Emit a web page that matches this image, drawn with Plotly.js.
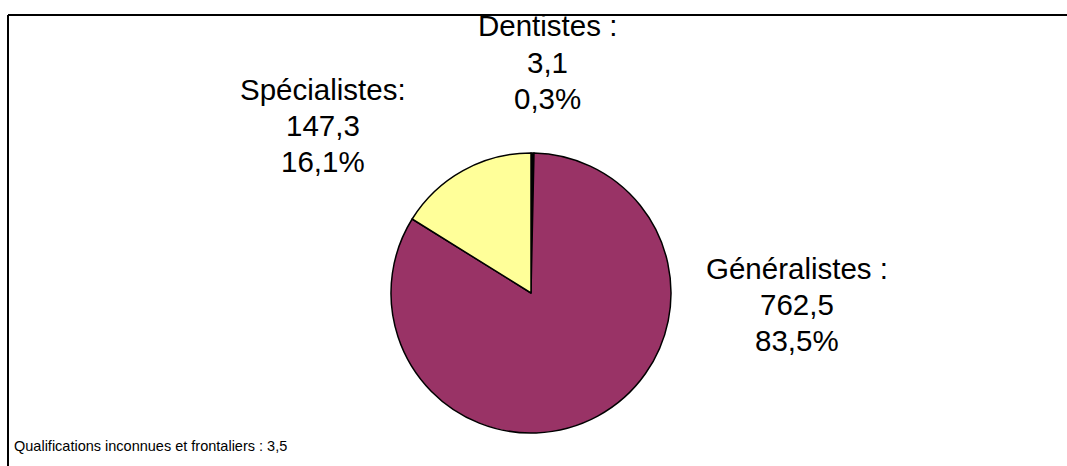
<!DOCTYPE html>
<html>
<head>
<meta charset="utf-8">
<script src="https://cdn.plot.ly/plotly-3.0.1.min.js"></script>
<style>html,body{margin:0;padding:0;background:#fff;}#chart{width:1067px;height:466px;}</style>
</head>
<body>
<div id="chart"></div>
<script>
var categories = ["Dentistes", "Généralistes", "Spécialistes"];
var values = [3.1, 762.5, 147.3];
var valueLabels = ["3,1", "762,5", "147,3"];
var percentLabels = ["0,3%", "83,5%", "16,1%"];
var nameLabels = ["Dentistes :", "Généralistes :", "Spécialistes:"];
var colors = ["#000000", "#993366", "#FFFF99"];
var footnote = "Qualifications inconnues et frontaliers : 3,5";

var W = 1067, H = 466;
var cx = 531, cy = 293, r = 140;

var trace = {
  type: "pie",
  labels: categories,
  values: values,
  sort: false,
  direction: "clockwise",
  rotation: 0,
  textinfo: "none",
  hoverinfo: "label+value+percent",
  marker: {colors: colors, line: {color: "#000000", width: 1.5}},
  domain: {x: [(cx - r) / W, (cx + r) / W], y: [1 - (cy + r) / H, 1 - (cy - r) / H]},
  showlegend: false
};

// label block centre x and the vertical centre of each of the three lines (pixels)
var labelX = [547.5, 797, 323];
var labelLineY = [[25.5, 62, 98.5], [268, 304, 340], [89.5, 125.5, 161.5]];
var font = {family: "Liberation Sans, Arial, sans-serif", size: 29.5, color: "#000000"};
var annotations = [];
categories.forEach(function (c, i) {
  var lines = [nameLabels[i], valueLabels[i], percentLabels[i]];
  lines.forEach(function (t, k) {
    annotations.push({
      xref: "paper", yref: "paper",
      x: labelX[i] / W, y: 1 - labelLineY[i][k] / H,
      xanchor: "center", yanchor: "middle",
      text: t, showarrow: false, align: "center", font: font
    });
  });
});
annotations.push({
  xref: "paper", yref: "paper",
  x: 12 / W, y: 1 - 445.5 / H,
  xanchor: "left", yanchor: "middle",
  text: footnote, showarrow: false,
  font: {family: "Liberation Sans, Arial, sans-serif", size: 14.5, color: "#000000"}
});

var layout = {
  width: W, height: H,
  margin: {l: 0, r: 0, t: 0, b: 0},
  paper_bgcolor: "#ffffff",
  plot_bgcolor: "#ffffff",
  annotations: annotations,
  shapes: [
    {type: "line", xref: "paper", yref: "paper", x0: 8 / W, x1: 1.01, y0: 1 - 15 / H, y1: 1 - 15 / H, line: {color: "#000000", width: 2}},
    {type: "line", xref: "paper", yref: "paper", x0: 8 / W, x1: 8 / W, y0: 1 - 15 / H, y1: -0.01, line: {color: "#000000", width: 2}}
  ]
};

Plotly.newPlot("chart", [trace], layout, {staticPlot: true, displayModeBar: false});
</script>
</body>
</html>
